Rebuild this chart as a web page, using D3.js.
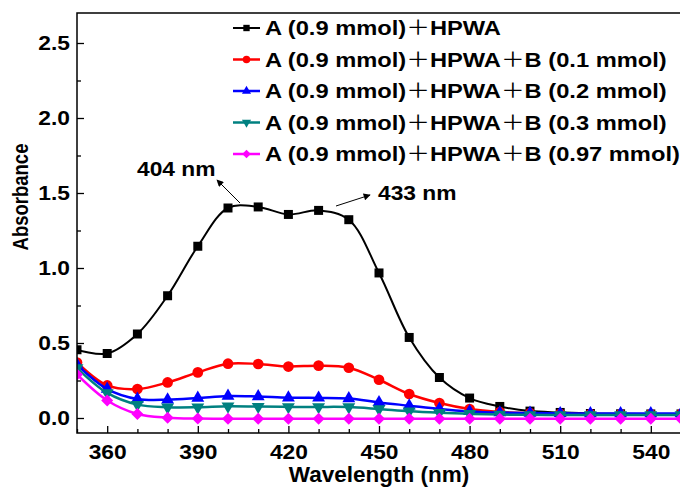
<!DOCTYPE html>
<html>
<head>
<meta charset="utf-8">
<script src="https://cdn.jsdelivr.net/npm/d3@7"></script>
<style>
  body { margin: 0; background: #fff; }
  text { font-family: "Liberation Sans", Arial, sans-serif; font-weight: bold; }
</style>
</head>
<body>
<div id="chart"></div>
<script>
// wavelengths sampled every 10 nm
const wavelengths = [350, 360, 370, 380, 390, 400, 410, 420, 430, 440, 450,
  460, 470, 480, 490, 500, 510, 520, 530, 540, 550];

// absorbance
const absHPWA = [0.455, 0.43, 0.56, 0.815, 1.145, 1.40, 1.407, 1.357, 1.384, 1.322, 0.967,
  0.537, 0.27, 0.133, 0.077, 0.046, 0.037, 0.03, 0.028, 0.027, 0.027];
const absB01 = [0.37, 0.217, 0.193, 0.237, 0.304, 0.362, 0.36, 0.343, 0.349, 0.335, 0.255,
  0.16, 0.10, 0.06, 0.04, 0.032, 0.028, 0.026, 0.025, 0.025, 0.025];
const absB02 = [0.355, 0.193, 0.127, 0.122, 0.133, 0.147, 0.143, 0.135, 0.134, 0.13, 0.104,
  0.082, 0.06, 0.044, 0.036, 0.033, 0.031, 0.03, 0.03, 0.03, 0.03];
const absB03 = [0.333, 0.167, 0.089, 0.072, 0.072, 0.078, 0.076, 0.074, 0.074, 0.073, 0.06,
  0.045, 0.035, 0.028, 0.023, 0.021, 0.02, 0.02, 0.02, 0.02, 0.02];
const absB097 = [0.29, 0.117, 0.027, 0.002, -0.004, -0.005, -0.005, -0.005, -0.005, -0.005, -0.005,
  -0.005, -0.005, -0.005, -0.005, -0.005, -0.005, -0.005, -0.005, -0.005, -0.005];

const seriesNames = [
  ['A (0.9 mmol)', 'HPWA'],
  ['A (0.9 mmol)', 'HPWA', 'B (0.1 mmol)'],
  ['A (0.9 mmol)', 'HPWA', 'B (0.2 mmol)'],
  ['A (0.9 mmol)', 'HPWA', 'B (0.3 mmol)'],
  ['A (0.9 mmol)', 'HPWA', 'B (0.97 mmol)']
];
const seriesValues = [absHPWA, absB01, absB02, absB03, absB097];
const seriesColors = ['#000000', '#ff0000', '#0000ff', '#008080', '#ff00ff'];
const seriesSymbols = ['square', 'circle', 'triangle', 'triangleDown', 'diamond'];

const xMajorTicks = [360, 390, 420, 450, 480, 510, 540];
const yMajorTicks = [0, 0.5, 1.0, 1.5, 2.0, 2.5];

const peaks = [
  { label: '404 nm', from: [240, 203], to: [217, 180], textX: 137, textY: 176 },
  { label: '433 nm', from: [336, 206], to: [370, 195], textX: 378, textY: 200 }
];

const W = 680, H = 487;
const plot = { left: 77, top: 13, right: 681, bottom: 433 };
const stretch = 1.14; // the text in the picture is a bit wide
const legendStretch = 1.185;
const fontSize = 20;

const x = d3.scaleLinear().domain([350, 550]).range([plot.left, plot.right]);
const y = d3.scaleLinear().domain([-0.1, 2.7]).range([plot.bottom, plot.top]);

const svg = d3.select('#chart').append('svg')
  .attr('width', W)
  .attr('height', H);

svg.append('clipPath').attr('id', 'plotClip')
  .append('rect')
  .attr('x', plot.left).attr('y', plot.top)
  .attr('width', plot.right - plot.left)
  .attr('height', plot.bottom - plot.top);

function symbolPath(kind, size) {
  if (kind === 'square' || kind === 'diamond') return d3.symbol(d3.symbolSquare, size)();
  if (kind === 'circle') return d3.symbol(d3.symbolCircle, size)();
  return d3.symbol(d3.symbolTriangle, size)();
}
function symbolRotate(kind) {
  if (kind === 'diamond') return ' rotate(45)';
  if (kind === 'triangleDown') return ' rotate(180)';
  return '';
}
const markerSize = { square: 81, circle: 90, triangle: 72, triangleDown: 72, diamond: 72 };

// curves
const line = d3.line()
  .x((d, i) => x(wavelengths[i]))
  .y(d => y(d))
  .curve(d3.curveCatmullRom.alpha(0.5));

const curves = svg.append('g').attr('clip-path', 'url(#plotClip)');
seriesValues.forEach((vals, s) => {
  const g = curves.append('g').attr('class', `series${s}`);
  g.append('path')
    .attr('d', line(vals))
    .attr('fill', 'none')
    .attr('stroke', seriesColors[s])
    .attr('stroke-width', s === 0 ? 2 : 2.5);
  g.selectAll('path.marker')
    .data(vals)
    .enter()
    .append('path')
    .attr('class', 'marker')
    .attr('d', symbolPath(seriesSymbols[s], markerSize[seriesSymbols[s]]))
    .attr('transform', (d, i) => `translate(${x(wavelengths[i])},${y(d)})` + symbolRotate(seriesSymbols[s]))
    .attr('fill', seriesColors[s]);
});

// axes, ticks point inward
const xMinor = d3.range(350, 551, 10).filter(v => !xMajorTicks.includes(v));
const yMinor = [0.25, 0.75, 1.25, 1.75, 2.25];

const xAxis = svg.append('g')
  .attr('transform', `translate(0,${plot.bottom})`)
  .call(d3.axisBottom(x).tickValues(xMajorTicks).tickSize(-7).tickPadding(12).tickFormat(d3.format('d')));
svg.append('g')
  .attr('transform', `translate(0,${plot.bottom})`)
  .call(d3.axisBottom(x).tickValues(xMinor).tickSize(-4).tickFormat(''));

const yAxis = svg.append('g')
  .attr('transform', `translate(${plot.left},0)`)
  .call(d3.axisLeft(y).tickValues(yMajorTicks).tickSize(-7).tickPadding(6).tickFormat(d3.format('.1f')));
svg.append('g')
  .attr('transform', `translate(${plot.left},0)`)
  .call(d3.axisLeft(y).tickValues(yMinor).tickSize(-4).tickFormat(''));

svg.selectAll('.domain').remove();
svg.selectAll('.tick line').attr('stroke', '#000').attr('stroke-width', 1.3);
svg.selectAll('.tick text')
  .attr('fill', '#000')
  .style('font-size', fontSize + 'px');
xAxis.selectAll('.tick text').attr('transform', `scale(${stretch},1)`);
yAxis.selectAll('.tick text')
  .attr('x', null)
  .attr('transform', `translate(-7,0) scale(${stretch},1)`);

// frame (right edge falls just outside the picture)
svg.append('path')
  .attr('d', `M${plot.right},${plot.top}H${plot.left}V${plot.bottom}H${plot.right}`)
  .attr('fill', 'none')
  .attr('stroke', '#000')
  .attr('stroke-width', 1.5);

// axis titles
svg.append('text')
  .attr('transform', `translate(${(plot.left + plot.right) / 2},482)`)
  .attr('text-anchor', 'middle')
  .style('font-size', '22.5px')
  .text('Wavelength (nm)');

svg.append('text')
  .attr('transform', 'translate(28,197) rotate(-90) scale(1,1.15)')
  .attr('text-anchor', 'middle')
  .style('font-size', '18.5px')
  .text('Absorbance');

// peak annotations
const defs = svg.append('defs');
defs.append('marker')
  .attr('id', 'arrowHead')
  .attr('viewBox', '0 0 10 10')
  .attr('refX', 9).attr('refY', 5)
  .attr('markerWidth', 9).attr('markerHeight', 7)
  .attr('markerUnits', 'userSpaceOnUse')
  .attr('orient', 'auto')
  .append('path')
  .attr('d', 'M0,0L10,5L0,10Z')
  .attr('fill', '#000');

peaks.forEach(p => {
  svg.append('line')
    .attr('x1', p.from[0]).attr('y1', p.from[1])
    .attr('x2', p.to[0]).attr('y2', p.to[1])
    .attr('stroke', '#000')
    .attr('stroke-width', 1)
    .attr('marker-end', 'url(#arrowHead)');
  svg.append('text')
    .attr('transform', `translate(${p.textX},${p.textY}) scale(${stretch},1)`)
    .style('font-size', fontSize + 'px')
    .text(p.label);
});

// legend
const legend = svg.append('g');
const legendRowY = [28, 59.5, 91, 122.5, 154];
seriesNames.forEach((parts, s) => {
  const row = legend.append('g').attr('transform', `translate(0,${legendRowY[s]})`);
  row.append('line')
    .attr('x1', 233).attr('x2', 260)
    .attr('stroke', seriesColors[s])
    .attr('stroke-width', s === 0 ? 2 : 2.5);
  const kind = seriesSymbols[s];
  row.append('path')
    .attr('d', symbolPath(kind, markerSize[kind] * 0.5))
    .attr('transform', 'translate(246.5,0)' + symbolRotate(kind))
    .attr('fill', seriesColors[s]);
  const t = row.append('text')
    .attr('transform', `translate(265,7.2) scale(${legendStretch},1)`)
    .style('font-size', fontSize + 'px');
  parts.forEach((part, k) => {
    if (k > 0) {
      t.append('tspan')
        .style('font-family', '"Noto Sans CJK SC", "DejaVu Sans", sans-serif')
        .style('font-weight', 'normal')
        .text('＋');
    }
    t.append('tspan').text(part);
  });
});
</script>
</body>
</html>
